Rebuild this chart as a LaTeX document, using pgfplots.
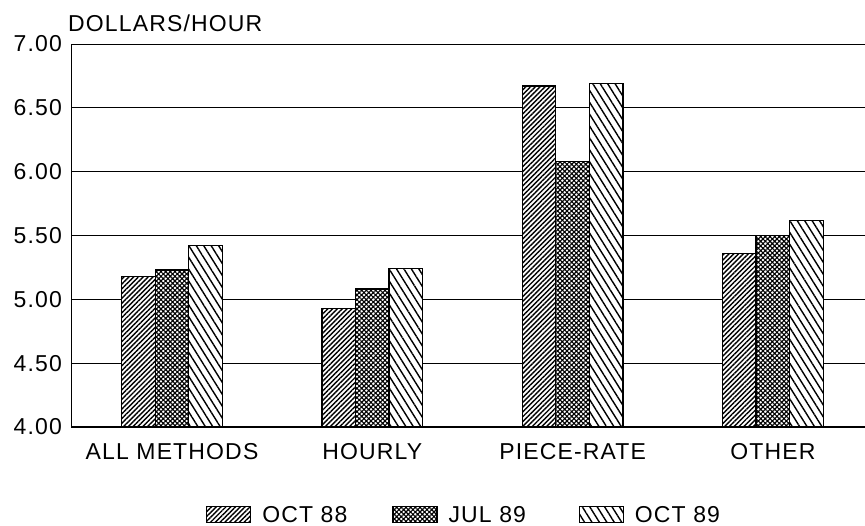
\documentclass[border=0pt]{standalone}
\usepackage{pgfplots}
\pgfplotsset{compat=1.18}
\usetikzlibrary{patterns.meta}
\usepackage{fontspec}
\setmainfont{Liberation Sans}[LetterSpace=5]
\newcommand{\cf}{\fontsize{23}{27}\selectfont}
\begin{document}
\begin{tikzpicture}[x=1pt,y=1pt]
\path[use as bounding box] (0,0) rectangle (865,526);
\begin{axis}[
  at={(71pt,99pt)}, anchor=south west, scale only axis,
  width=794pt, height=383pt,
  xmin=-0.5045, xmax=3.46, ymin=4, ymax=7,
  axis x line=bottom, axis y line=left,
  axis line style={-, line width=1pt},
  x axis line style={line width=1.6pt},
  ytick={4,4.5,5,5.5,6,6.5,7},
  ymajorgrids, grid style={black, line width=0.9pt},
  xtick={0,1,2,3}, xticklabels={ALL METHODS,HOURLY,PIECE-RATE,OTHER},
  major tick length=0pt,
  tick label style={font=\cf},
  /pgf/number format/assume math mode=true,
  yticklabel style={/pgf/number format/fixed, /pgf/number format/fixed zerofill, /pgf/number format/precision=2, anchor=east, inner sep=0pt, xshift=-9pt},
  xticklabel style={anchor=north, inner sep=0pt, yshift=-16pt},
  legend columns=3,
  legend style={draw=none, fill=none, at={(0.493,-0.228)}, anchor=center, font=\cf,
    nodes={inner sep=0pt, text depth=0pt},
    /tikz/every odd column/.append style={column sep=11pt},
    /tikz/every even column/.append style={column sep=46pt}},
  bar width=0.1675,
  mybar/.style={ybar, draw=black, line width=1.3pt, fill=white,
    legend image code/.code={\draw[##1] (0pt,-8pt) rectangle (44pt,8pt);}},
]
\addplot[mybar, bar shift=-0.1675, postaction={pattern={Lines[angle=45,distance=3.4pt,line width=1.4pt]}}]
  coordinates {(0,5.18) (1,4.93) (2,6.67) (3,5.36)};
\addlegendentry{\makebox[84pt][l]{OCT 88}}
\addplot[mybar, bar shift=0, postaction={pattern={Hatch[angle=45,distance=3.3pt,line width=1.1pt]}}]
  coordinates {(0,5.23) (1,5.08) (2,6.08) (3,5.50)};
\addlegendentry{\makebox[84pt][l]{JUL 89}}
\addplot[mybar, bar shift=0.1675, postaction={pattern={Lines[angle=-58,distance=6.3pt,line width=1.4pt]}}]
  coordinates {(0,5.42) (1,5.24) (2,6.69) (3,5.62)};
\addlegendentry{\makebox[84pt][l]{OCT 89}}
\end{axis}
\node[anchor=base west, inner sep=0pt, font=\cf] at (68,494) {DOLLARS/HOUR};
\end{tikzpicture}
\end{document}
